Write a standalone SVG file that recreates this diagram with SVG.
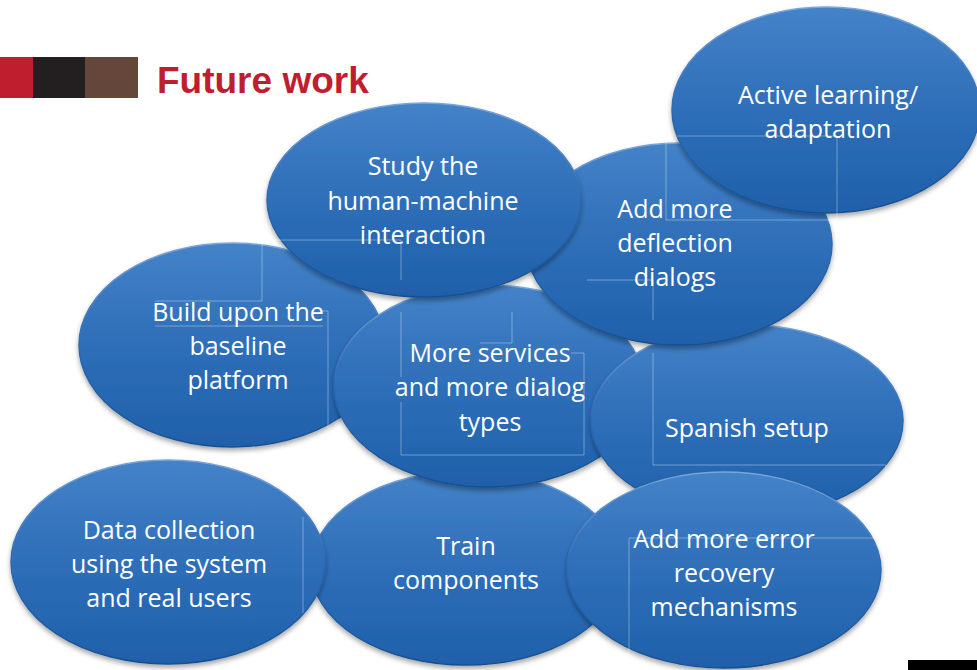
<svg xmlns="http://www.w3.org/2000/svg" width="977" height="670" viewBox="0 0 977 670">
<defs>
<linearGradient id="fillG" x1="0" y1="0" x2="0" y2="1">
<stop offset="0" stop-color="#4483c8"/>
<stop offset="0.45" stop-color="#3070ba"/>
<stop offset="1" stop-color="#1f60aa"/>
</linearGradient>
<linearGradient id="rimG" x1="0" y1="0" x2="0" y2="1">
<stop offset="0" stop-color="#7aa6da"/>
<stop offset="0.5" stop-color="#2c68b0"/>
<stop offset="1" stop-color="#17508f"/>
</linearGradient>
<filter id="sh" x="-10%" y="-10%" width="120%" height="125%">
<feDropShadow dx="0" dy="3" stdDeviation="2.5" flood-color="#000" flood-opacity="0.35"/>
</filter>
</defs>
<style>
.bub{fill:url(#fillG);stroke:url(#rimG);stroke-width:1.5;filter:url(#sh)}
.t{font-family:"Open Sans","Noto Sans","DejaVu Sans",sans-serif;font-size:25px;fill:#ffffff;text-anchor:middle}
.tb{stroke:#ffffff;stroke-opacity:0.35;stroke-width:1;fill:none}
.title{font-family:"Liberation Sans",Arial,sans-serif;font-weight:bold;font-size:37px;fill:#be1e2d}
</style>
<rect width="977" height="670" fill="#ffffff"/>
<g id="header">
<rect x="0" y="57" width="33" height="41" fill="#be1e2d"/>
<rect x="33" y="57" width="52" height="41" fill="#231f20"/>
<rect x="85" y="57" width="53" height="41" fill="#65463a"/>
<text class="title" x="157" y="93">Future work</text>
</g>
<g id="build">
<ellipse class="bub" cx="232" cy="345" rx="153" ry="102"/>
<text class="t" x="238" y="321">Build upon the</text>
<text class="t" x="238" y="355">baseline</text>
<text class="t" x="238" y="389">platform</text>
</g>
<g id="train">
<ellipse class="bub" cx="466" cy="568" rx="155" ry="97"/>
<text class="t" x="466" y="555">Train</text>
<text class="t" x="466" y="589">components</text>
</g>
<g id="data">
<ellipse class="bub" cx="168" cy="562" rx="157" ry="102"/>
<text class="t" x="169" y="539">Data collection</text>
<text class="t" x="169" y="573">using the system</text>
<text class="t" x="169" y="607">and real users</text>
</g>
<g id="services">
<ellipse class="bub" cx="489" cy="386" rx="155" ry="101"/>
<text class="t" x="490" y="362">More services</text>
<text class="t" x="490" y="396">and more dialog</text>
<text class="t" x="490" y="431">types</text>
</g>
<g id="spanish">
<ellipse class="bub" cx="747" cy="421" rx="156" ry="96"/>
<text class="t" x="747" y="437">Spanish setup</text>
</g>
<g id="error">
<ellipse class="bub" cx="724" cy="570" rx="157" ry="98"/>
<text class="t" x="724" y="548">Add more error</text>
<text class="t" x="724" y="582">recovery</text>
<text class="t" x="724" y="616">mechanisms</text>
</g>
<g id="deflection">
<ellipse class="bub" cx="679" cy="244" rx="153" ry="101"/>
<text class="t" x="675" y="218">Add more</text>
<text class="t" x="675" y="252">deflection</text>
<text class="t" x="675" y="286">dialogs</text>
</g>
<g id="study">
<ellipse class="bub" cx="424" cy="200" rx="157" ry="97"/>
<text class="t" x="423" y="175">Study the</text>
<text class="t" x="423" y="210">human-machine</text>
<text class="t" x="423" y="244">interaction</text>
</g>
<g id="active">
<ellipse class="bub" cx="826" cy="110" rx="154" ry="103"/>
<text class="t" x="828" y="104">Active learning/</text>
<text class="t" x="828" y="138">adaptation</text>
</g>
<g id="textbox-lines" class="tb">
<path d="M262 240 H401 V280 M262 240 V301 H155 M155 326 H323 M322 311 H328 V457"/>
<path d="M401 312 V377 M401 402 V455 H584 V353 H571 M480 343 H512 V312"/>
<path d="M666 138 V220 H837 V136 H677 M587 280 H653 V320"/>
<path d="M653 353 V465 H886 V483"/>
<path d="M303 517 V613"/>
<path d="M629 670 V538 H883"/>
</g>
<rect x="908" y="660" width="69" height="10" fill="#000000"/>
</svg>
